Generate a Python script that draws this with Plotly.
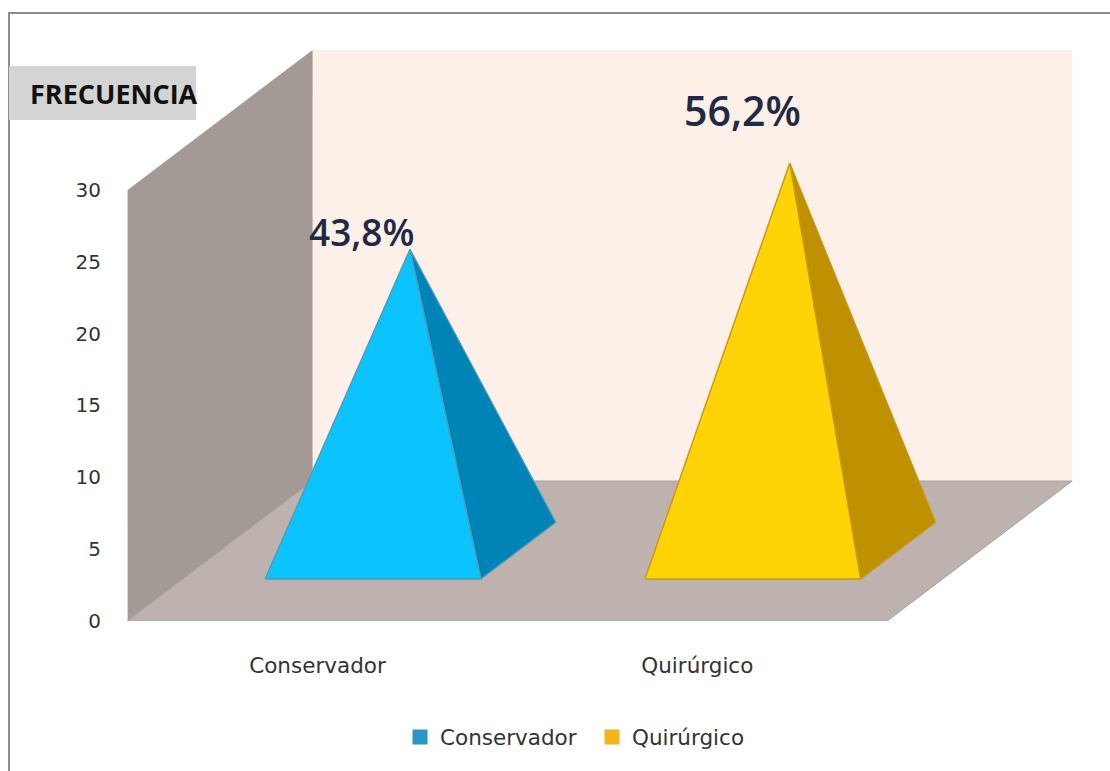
import plotly.graph_objects as go

# Chart data
categories = ["Conservador", "Quirúrgico"]
frequencies = [21, 27]
percent_labels = ["43,8%", "56,2%"]
y_ticks = [0, 5, 10, 15, 20, 25, 30]

# Colours per series: front face, side face, edge, legend swatch
front_colors = ["#0bc4ff", "#ffd305"]
side_colors = ["#0083b7", "#bf9000"]
edge_colors = ["#4f9db4", "#c99a1c"]
legend_colors = ["#2a96c6", "#f5b41e"]

# Page and oblique-projection geometry
WIDTH, HEIGHT = 1110, 771
LEFT, BOTTOM = 127, 150
PX_PER_CAT = 379.8
PX_PER_VAL = 14.37
DEPTH_DX = 185 / PX_PER_CAT
DEPTH_DY = 140 / PX_PER_VAL
HALF_BASE = 0.284
BASE_FRONT, BASE_BACK = 0.30, 0.705
AXIS_TOP = 30


def project(cat, value, depth):
    """Map a position in (category, value, depth) space onto the 2D axes."""
    return cat + depth * DEPTH_DX, value + depth * DEPTH_DY


def polygon(points, fill, line=None, line_width=0):
    xs, ys = zip(*[project(*p) for p in points + points[:1]])
    return go.Scatter(
        x=xs, y=ys, mode="lines", fill="toself", fillcolor=fill,
        line=dict(color=line or fill, width=line_width),
        showlegend=False, hoverinfo="skip",
    )


fig = go.Figure()

x_lo, x_hi = -0.5, 1.5
# Back wall, side wall and floor of the 3D box
fig.add_trace(polygon([(x_lo, 0, 1), (x_hi, 0, 1), (x_hi, AXIS_TOP, 1), (x_lo, AXIS_TOP, 1)], "#fdf0e9"))
fig.add_trace(polygon([(x_lo, 0, 0), (x_lo, AXIS_TOP, 0), (x_lo, AXIS_TOP, 1), (x_lo, 0, 1)], "#a39a95"))
fig.add_trace(polygon([(x_lo, 0, 0), (x_hi, 0, 0), (x_hi, 0, 1), (x_lo, 0, 1)], "#bdb2ae", "#a8a3a1", 1))

# One pyramid per category: side face first, front face over it
for i, value in enumerate(frequencies):
    left = (i - HALF_BASE, 0, BASE_FRONT)
    right = (i + HALF_BASE, 0, BASE_FRONT)
    back = (i + HALF_BASE, 0, BASE_BACK)
    apex = (i, value, 0.5)
    fig.add_trace(polygon([right, back, apex], side_colors[i], edge_colors[i], 1.2))
    fig.add_trace(polygon([left, right, apex], front_colors[i], edge_colors[i], 1.5))

# Legend entries
for name, color in zip(categories, legend_colors):
    fig.add_trace(go.Scatter(
        x=[None], y=[None], mode="markers", name=name,
        marker=dict(symbol="square", size=15, color=color),
    ))

# Percentage labels anchored at each apex
label_sizes = [37, 41]
label_shifts = [(-48, 18), (-47, 53)]
annotations = []
for i, (text, value) in enumerate(zip(percent_labels, frequencies)):
    ax, ay = project(i, value, 0.5)
    annotations.append(dict(
        x=ax, y=ay, xref="x", yref="y", text=text, showarrow=False,
        xshift=label_shifts[i][0], yshift=label_shifts[i][1],
        font=dict(family="Open Sans", size=label_sizes[i], color="#1f2a44", weight=600),
    ))


def paper_x(px):
    return (px - LEFT) / (WIDTH - LEFT)


def paper_y(py):
    return (HEIGHT - BOTTOM - py) / (HEIGHT - BOTTOM)


# Axis title on its grey band
annotations.append(dict(
    x=paper_x(200), y=paper_y(93), xref="paper", yref="paper",
    xanchor="right", yanchor="middle",
    text="FRECUENCIA", showarrow=False,
    font=dict(family="Open Sans", size=27, color="#111111", weight=700),
))

shapes = [
    dict(type="path", xref="paper", yref="paper", layer="below",
         path=f"M {paper_x(9)} {paper_y(771)} L {paper_x(9)} {paper_y(13)} L {paper_x(1110)} {paper_y(13)}",
         line=dict(color="#8c8c8c", width=2)),
    dict(type="rect", xref="paper", yref="paper", layer="below",
         x0=paper_x(9), x1=paper_x(196), y0=paper_y(120), y1=paper_y(66),
         fillcolor="#d4d4d4", line=dict(width=0)),
]

y_tick_font = dict(family="DejaVu Sans", size=20, color="#333333")
text_font = dict(family="DejaVu Sans", size=21.5, color="#333333")

fig.update_layout(
    width=WIDTH, height=HEIGHT,
    margin=dict(l=LEFT, r=0, t=0, b=BOTTOM, pad=0),
    paper_bgcolor="white", plot_bgcolor="white",
    annotations=annotations, shapes=shapes,
    xaxis=dict(
        range=[-190.5 / PX_PER_CAT, (WIDTH - LEFT - 190.5) / PX_PER_CAT],
        tickmode="array", tickvals=[0, 1], ticktext=categories,
        ticks="outside", ticklen=25, tickcolor="rgba(0,0,0,0)",
        showgrid=False, zeroline=False, showline=False, tickfont=text_font,
    ),
    yaxis=dict(
        range=[0, (HEIGHT - BOTTOM) / PX_PER_VAL],
        tickmode="array", tickvals=y_ticks,
        ticks="outside", ticklen=21, tickcolor="rgba(0,0,0,0)",
        showgrid=False, zeroline=False, showline=False, tickfont=y_tick_font,
    ),
    legend=dict(
        orientation="h", x=paper_x(400), y=paper_y(737),
        xanchor="left", yanchor="middle", bgcolor="rgba(0,0,0,0)",
        font=text_font, entrywidth=147, entrywidthmode="pixels", itemwidth=30,
    ),
)

fig.write_html("out.html", config=dict(displayModeBar=False))
